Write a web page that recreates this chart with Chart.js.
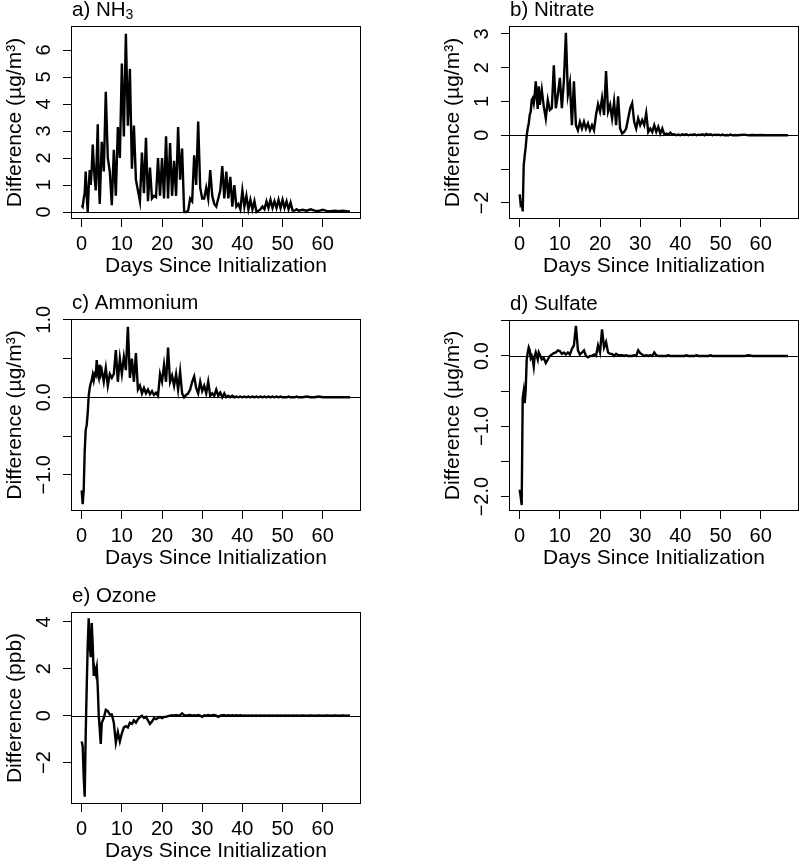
<!DOCTYPE html>
<html>
<head>
<meta charset="utf-8">
<title>Difference since initialization</title>
<script src="https://cdn.jsdelivr.net/npm/chart.js@4.4.1/dist/chart.umd.min.js"></script>
<style>
    html, body { margin: 0; padding: 0; background: #fff; overflow: hidden; }
    #page { position: relative; width: 800px; height: 863px; }
    #page canvas { position: absolute; }
</style>
</head>
<body>
<div id="page">
    <canvas id="panel-a"></canvas>
    <canvas id="panel-b"></canvas>
    <canvas id="panel-c"></canvas>
    <canvas id="panel-d"></canvas>
    <canvas id="panel-e"></canvas>
</div>
<script>
// ========================================
// Data
// ========================================

// Days since initialization (shared by every panel)
const days = [
    0, 0.25, 0.5, 0.75, 1, 1.25, 1.5, 1.75, 2, 2.25, 2.5, 2.75, 3, 3.25, 3.5, 3.75, 4, 4.25, 4.5, 4.75, 5,
    5.5, 6, 6.5, 7, 7.5, 8, 8.5, 9, 9.5, 10,
    10.5, 11, 11.5, 12, 12.5, 13, 13.5, 14, 14.5, 15,
    15.5, 16, 16.5, 17, 17.5, 18, 18.5, 19, 19.5, 20,
    20.5, 21, 21.5, 22, 22.5, 23, 23.5, 24, 24.5, 25,
    25.5, 26, 26.5, 27, 27.5, 28, 28.5, 29, 29.5, 30,
    30.5, 31, 31.5, 32, 32.5, 33, 33.5, 34, 34.5, 35,
    35.5, 36, 36.5, 37, 37.5, 38, 38.5, 39, 39.5, 40,
    40.5, 41, 41.5, 42, 42.5, 43, 43.5, 44, 44.5, 45,
    45.5, 46, 46.5, 47, 47.5, 48, 48.5, 49, 49.5, 50,
    50.5, 51, 51.5, 52, 52.5, 53, 53.5, 54,
    55, 56, 57, 58, 59, 60, 61, 62, 63, 64, 65, 66, 66.8
];

// a) NH3 (ug/m3)
const nh3Diff = [
    0.25, 0.2, 0.5, 0.7, 1.5, 0.6, 0.0, 0.9, 1.55, 1.0, 1.6, 2.5, 1.8, 1.2, 0.8, 2.0, 3.25, 1.2, 0.3, 1.5, 2.6,
    1.5, 4.45, 2.0, 1.5, 0.25, 2.3, 0.6, 3.15, 2.0, 5.5,
    2.8, 6.6, 3.2, 5.3, 1.6, 3.2, 1.2, 0.8, 0.4, 2.2,
    0.7, 2.75, 0.4, 1.65, 0.5, 0.6, 0.55, 2.0, 0.6, 2.0,
    0.5, 2.8, 0.5, 2.55, 0.6, 1.9, 0.6, 3.15, 1.2, 2.35,
    0.0, 0.0, 0.05, 0.5, 0.4, 2.1, 1.0, 3.35, 0.9, 0.5,
    0.5, 0.9, 0.5, 1.55, 0.6, 0.3, 0.2, 0.5, 0.8, 1.7,
    0.5, 1.5, 0.5, 1.3, 0.2, 1.0, 0.2, 0.3, 0.1, 0.8,
    0.2, 0.6, 0.1, 0.45, 0.1, 0.4, 0.0, 0.05, 0.1, 0.2,
    0.1, 0.4, 0.15, 0.45, 0.15, 0.4, 0.15, 0.45, 0.15, 0.45,
    0.15, 0.4, 0.1, 0.35, 0.05, 0.05, 0.1, 0.05,
    0.08, 0.05, 0.1, 0.05, 0.04, 0.08, 0.04, 0.03, 0.05, 0.03, 0.05, 0.03, 0.02
];

// b) Nitrate (ug/m3)
const nitrateDiff = [
    -1.75, -2.05, -2.0, -2.25, -0.9, -0.6, -0.35, 0.0, 0.2, 0.35, 0.6, 0.7, 1.05, 1.1, 0.95, 1.2, 1.6, 1.1, 0.78, 1.45, 0.9,
    1.35, 0.85, 0.5, 1.05, 0.75, 0.8, 2.07, 0.8, 1.2, 1.7,
    0.8, 1.6, 3.03, 1.2, 1.55, 0.3, 1.6, 0.3, 0.15, 0.4,
    0.2, 0.4, 0.2, 0.35, 0.15, 0.3, 0.15, 0.6, 0.92, 0.7,
    1.1, 0.6, 1.9, 0.7, 0.9, 0.5, 1.0, 0.3, 1.15, 0.2,
    0.05, 0.1, 0.2, 0.5, 0.8, 0.95, 0.4, 0.2, 0.5, 0.3,
    0.45, 0.3, 0.65, 0.1, 0.2, 0.1, 0.3, 0.1, 0.25, 0.05,
    0.2, 0.02, 0.05, 0.02, 0.08, 0.02, 0.03, 0.0, 0.02, 0.0,
    0.03, 0.01, 0.03, 0.0, 0.02, 0.01, 0.03, 0.0, 0.02, 0.01,
    0.03, 0.0, 0.04, 0.01, 0.03, 0.0, 0.02, 0.01, 0.02, 0.0,
    0.02, 0.0, 0.01, 0.0, 0.02, 0.0, 0.01, 0.0,
    0.01, 0.02, 0.0, 0.01, 0.0, 0.01, 0.0, 0.0, 0.0, 0.0, 0.0, 0.0, 0.0
];

// c) Ammonium (ug/m3)
const ammoniumDiff = [
    -1.2, -1.38, -1.2, -0.7, -0.42, -0.36, -0.2, 0.02, 0.12, 0.18, 0.22, 0.29, 0.22, 0.3, 0.28, 0.48, 0.3, 0.25, 0.42, 0.3, 0.35,
    0.2, 0.38, 0.15, 0.3, 0.25, 0.3, 0.61, 0.2, 0.5, 0.3,
    0.52, 0.35, 0.91, 0.25, 0.5, 0.2, 0.57, 0.1, 0.15, 0.05,
    0.12, 0.05, 0.1, 0.04, 0.08, 0.03, 0.06, 0.02, 0.3, 0.2,
    0.42, 0.2, 0.64, 0.2, 0.28, 0.15, 0.3, 0.1, 0.33, 0.05,
    0.0, 0.03, 0.05, 0.1, 0.2, 0.27, 0.12, 0.05, 0.2, 0.08,
    0.15, 0.05, 0.2, 0.02, 0.05, 0.02, 0.1, 0.02, 0.06, 0.0,
    0.05, 0.0, 0.02, 0.0, 0.02, 0.0, 0.01, 0.0, 0.01, 0.0,
    0.01, 0.0, 0.01, 0.0, 0.01, 0.0, 0.01, 0.0, 0.01, 0.0,
    0.01, 0.0, 0.01, 0.0, 0.01, 0.0, 0.01, 0.0, 0.01, 0.0,
    0.0, 0.0, 0.01, 0.0, 0.0, 0.0, 0.01, 0.0,
    0.0, 0.01, 0.0, 0.0, 0.01, 0.0, 0.0, 0.0, 0.0, 0.0, 0.0, 0.0, 0.0
];

// d) Sulfate (ug/m3)
const sulfateDiff = [
    -1.9, -2.0, -2.12, -0.6, -0.5, -0.67, -0.48, -0.05, 0.05, 0.12, 0.08, -0.03, 0.0, -0.05, -0.15, 0.0, 0.05, 0.0, -0.05, 0.05, 0.02,
    -0.05, -0.03, -0.1, -0.05, 0.0, 0.02, 0.04, 0.05, 0.08, 0.07,
    0.03, 0.05, 0.02, 0.05, 0.02, 0.1, 0.15, 0.43, 0.08, 0.02,
    0.05, 0.08, 0.0, -0.02, 0.0, 0.0, 0.02, 0.0, 0.15, 0.05,
    0.38, 0.12, 0.2, 0.05, 0.03, 0.03, 0.0, 0.03, 0.01, 0.01,
    0.01, 0.0, 0.01, 0.0, 0.0, 0.0, 0.01, 0.0, 0.08, 0.04,
    0.02, 0.0, 0.01, 0.0, 0.01, 0.0, 0.05, 0.01, 0.0, 0.0,
    0.0, 0.0, 0.0, 0.01, 0.0, 0.0, 0.0, 0.0, 0.0, 0.0,
    0.0, 0.0, 0.01, 0.0, 0.0, 0.0, 0.0, 0.01, 0.0, 0.0,
    0.0, 0.0, 0.0, 0.0, 0.01, 0.0, 0.0, 0.0, 0.0, 0.0,
    0.0, 0.0, 0.0, 0.0, 0.0, 0.0, 0.0, 0.0,
    0.0, 0.0, 0.01, 0.0, 0.0, 0.0, 0.0, 0.0, 0.0, 0.0, 0.0, 0.0, 0.0
];

// e) Ozone (ppb)
const ozoneDiff = [
    -1.1, -1.3, -2.6, -3.45, -0.8, 1.2, 3.0, 4.15, 3.0, 2.5, 3.95, 3.0, 1.7, 2.0, 1.8, 2.05, 1.2, 0.0, -0.6, -1.2, -0.3,
    -0.1, 0.25, 0.2, 0.05, 0.05, -0.3, -1.15, -0.7, -1.1, -0.75,
    -0.5, -0.45, -0.5, -0.3, -0.35, -0.2, -0.3, -0.15, -0.05, 0.0,
    -0.1, -0.05, -0.2, -0.35, -0.25, -0.1, -0.15, -0.1, -0.05, -0.1,
    -0.05, -0.05, -0.02, 0.0, 0.02, 0.0, 0.03, 0.0, 0.02, 0.1,
    0.02, 0.0, 0.02, 0.03, 0.0, 0.02, 0.0, 0.03, 0.0, -0.05,
    0.02, 0.0, 0.03, 0.0, 0.02, 0.03, 0.0, -0.05, 0.0, 0.02,
    0.02, 0.0, 0.02, 0.0, 0.02, 0.0, 0.02, 0.0, 0.02, 0.0,
    0.01, 0.0, 0.01, 0.0, 0.01, 0.0, 0.01, 0.0, 0.01, 0.0,
    0.01, 0.0, 0.01, 0.0, 0.01, 0.0, 0.01, 0.0, 0.01, 0.0,
    0.01, 0.0, 0.01, 0.0, 0.01, 0.0, 0.01, 0.0,
    0.01, 0.0, 0.01, 0.0, 0.01, 0.0, 0.01, 0.0, 0.01, 0.0, 0.01, 0.0, 0.01
];

// Tick values and labels
const xTicks = [0, 10, 20, 30, 40, 50, 60];
const nh3Ticks = [0, 1, 2, 3, 4, 5, 6];
const nh3TickLabels = ['0', '1', '2', '3', '4', '5', '6'];
const nitrateTicks = [-2, -1, 0, 1, 2, 3];
const nitrateTickLabels = ['\u22122', '', '0', '1', '2', '3'];
const ammoniumTicks = [-1, -0.5, 0, 0.5, 1];
const ammoniumTickLabels = ['\u22121.0', '', '0.0', '', '1.0'];
const sulfateTicks = [-2, -1.5, -1, -0.5, 0, 0.5];
const sulfateTickLabels = ['\u22122.0', '', '\u22121.0', '', '0.0', ''];
const ozoneTicks = [-2, 0, 2, 4];
const ozoneTickLabels = ['\u22122', '0', '2', '4'];

const FONT = "'Liberation Sans', Arial, sans-serif";

// ========================================
// Panel decorations: box, zero line, rotated y labels, panel title
// ========================================
const panelDecor = {
    id: 'panelDecor',
    afterDatasetsDraw(chart, args, opts) {
        const { ctx, chartArea: area, scales: { y } } = chart;
        ctx.save();
        ctx.strokeStyle = '#000';
        ctx.fillStyle = '#000';
        ctx.lineWidth = 1;

        // horizontal line at zero
        const y0 = Math.round(y.getPixelForValue(0)) + 0.5;
        ctx.beginPath();
        ctx.moveTo(area.left, y0);
        ctx.lineTo(area.right, y0);
        ctx.stroke();

        // plot box
        ctx.strokeRect(area.left + 0.5, area.top + 0.5, area.width - 1, area.height - 1);

        // y tick labels, parallel to the axis
        ctx.font = '20px ' + FONT;
        ctx.textAlign = 'center';
        ctx.textBaseline = 'middle';
        opts.ticks.forEach((v, i) => {
            const label = opts.labels[i];
            if (!label) return;
            ctx.save();
            ctx.translate(area.left - 27, y.getPixelForValue(v));
            ctx.rotate(-Math.PI / 2);
            ctx.fillText(label, 0, 0);
            ctx.restore();
        });

        // panel title (with optional subscript)
        ctx.font = '20.5px ' + FONT;
        ctx.textAlign = 'left';
        ctx.textBaseline = 'alphabetic';
        const base = area.top - 10;
        ctx.fillText(opts.title, area.left + 1, base);
        if (opts.sub) {
            const w = ctx.measureText(opts.title).width;
            ctx.font = '14px ' + FONT;
            ctx.fillText(opts.sub, area.left + 1 + w, base + 3);
        }
        ctx.restore();
    }
};

// Build one panel
function makePanel(id, left, top, boxHeight, values, yMin, yMax, yTicks, yLabels, yTitle, title, sub) {
    if (values.length !== days.length) {
        throw new Error(id + ': ' + values.length + ' values for ' + days.length + ' days');
    }
    const canvas = document.getElementById(id);
    canvas.width = 362;
    canvas.height = 26 + boxHeight + 60;
    canvas.style.left = left + 'px';
    canvas.style.top = top + 'px';

    const points = days.map((d, i) => ({ x: d, y: values[i] }));

    return new Chart(canvas, {
        type: 'line',
        data: {
            datasets: [{
                data: points,
                borderColor: '#000',
                borderWidth: 2.4,
                pointRadius: 0,
                tension: 0,
                fill: false
            }]
        },
        options: {
            responsive: false,
            animation: false,
            devicePixelRatio: 1,
            layout: { padding: { left: 0, top: 26, right: 1, bottom: 0 } },
            plugins: {
                legend: { display: false },
                tooltip: { enabled: false },
                panelDecor: { ticks: yTicks, labels: yLabels, title: title, sub: sub }
            },
            scales: {
                x: {
                    type: 'linear',
                    min: -2.66,
                    max: 69.53,
                    afterBuildTicks: s => { s.ticks = xTicks.map(v => ({ value: v })); },
                    afterFit: s => { s.height = 60; },
                    ticks: {
                        color: '#000',
                        font: { size: 20, family: FONT },
                        padding: 5,
                        autoSkip: false,
                        maxRotation: 0,
                        minRotation: 0
                    },
                    grid: { drawOnChartArea: false, drawTicks: true, tickLength: 8, color: '#000', lineWidth: 1 },
                    border: { display: false },
                    title: {
                        display: true,
                        text: 'Days Since Initialization',
                        color: '#000',
                        font: { size: 21, family: FONT },
                        padding: { top: 0, bottom: 0 }
                    }
                },
                y: {
                    type: 'linear',
                    min: yMin,
                    max: yMax,
                    afterBuildTicks: s => { s.ticks = yTicks.map(v => ({ value: v })); },
                    afterFit: s => { s.width = 71; },
                    ticks: { display: false },
                    grid: { drawOnChartArea: false, drawTicks: true, tickLength: 8, color: '#000', lineWidth: 1 },
                    border: { display: false },
                    title: {
                        display: true,
                        text: yTitle,
                        color: '#000',
                        font: { size: 21, family: FONT },
                        padding: { top: 2.4, bottom: 0 }
                    }
                }
            }
        },
        plugins: [panelDecor]
    });
}

const massTitle = 'Difference (\u00b5g/m\u00b3)';

makePanel('panel-a', 0, 0, 193, nh3Diff, -0.259, 6.889, nh3Ticks, nh3TickLabels, massTitle, 'a) NH', '3');
makePanel('panel-b', 438, 0, 193, nitrateDiff, -2.476, 3.234, nitrateTicks, nitrateTickLabels, massTitle, 'b) Nitrate', '');
makePanel('panel-c', 0, 293, 192, ammoniumDiff, -1.467, 1.010, ammoniumTicks, ammoniumTickLabels, massTitle, 'c) Ammonium', '');
makePanel('panel-d', 438, 294, 191, sulfateDiff, -2.205, 0.512, sulfateTicks, sulfateTickLabels, massTitle, 'd) Sulfate', '');
makePanel('panel-e', 0, 586, 192, ozoneDiff, -3.765, 4.422, ozoneTicks, ozoneTickLabels, 'Difference (ppb)', 'e) Ozone', '');
</script>
</body>
</html>
